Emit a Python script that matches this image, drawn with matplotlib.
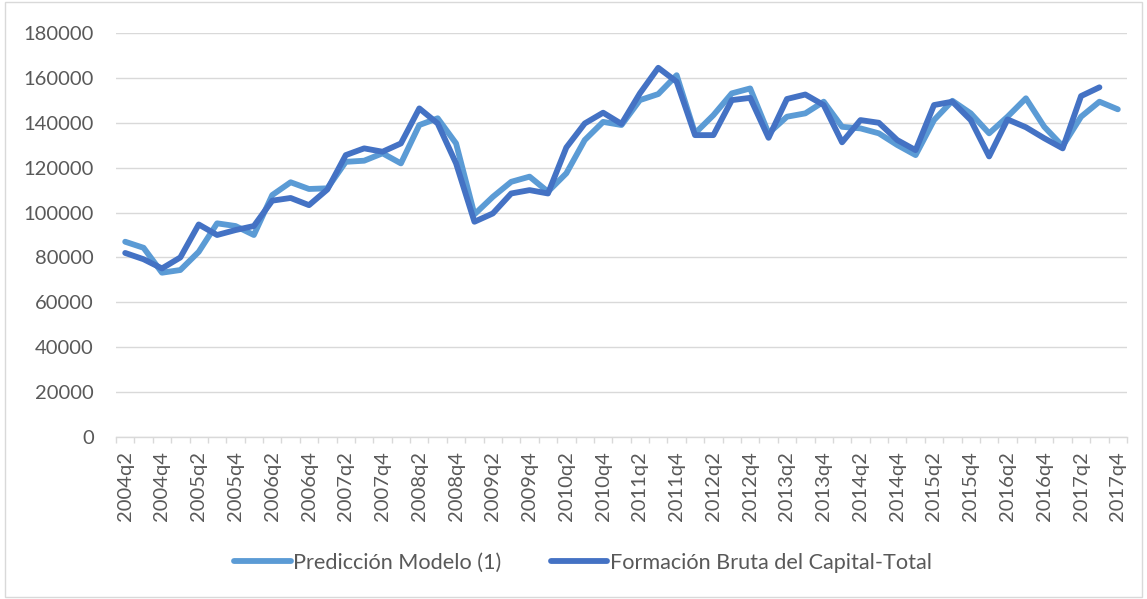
import matplotlib
matplotlib.use("Agg")
import matplotlib.pyplot as plt
from matplotlib.patches import Rectangle
import numpy as np

plt.rcParams['font.family'] = ['Lato', 'DejaVu Sans']

# Categories: quarters 2004q2 .. 2017q4
quarters = [f"{y}q{q}" for y in range(2004, 2018) for q in range(1, 5)][1:]

prediccion = [87.0, 84.3, 73.2, 74.4, 82.5, 95.2, 94.0, 90.0, 107.8, 113.5,
              110.5, 110.8, 122.6, 123.1, 126.4, 121.9, 139.0, 142.0, 130.8, 99.2,
              107.0, 113.7, 116.0, 109.3, 117.5, 132.3, 140.4, 139.0, 150.1, 152.8,
              161.2, 135.3, 143.4, 153.1, 155.3, 135.3, 142.7, 144.2, 149.4, 138.2,
              137.5, 135.3, 130.1, 125.6, 141.2, 149.8, 144.2, 135.3, 142.7, 150.9,
              138.2, 129.6, 142.7, 149.4, 146.0]
formacion = [82.0, 79.2, 75.1, 80.0, 94.7, 90.0, 92.2, 94.0, 105.3, 106.5,
             103.3, 110.3, 125.6, 128.6, 127.1, 130.8, 146.4, 139.7, 121.9, 95.9,
             99.6, 108.5, 110.0, 108.5, 129.0, 139.7, 144.5, 139.5, 153.1, 164.5,
             158.3, 134.5, 134.5, 150.1, 151.1, 133.3, 150.6, 152.6, 147.9, 131.3,
             141.2, 140.0, 132.3, 127.8, 147.9, 149.4, 141.2, 125.0, 141.5, 138.0,
             133.1, 128.6, 151.9, 155.8]

series_names = ["Predicción Modelo (1)", "Formación Bruta del Capital-Total"]
colors = ["#5B9BD5", "#4472C4"]
yticks = list(range(0, 180001, 20000))

text_color = "#595959"
grid_color = "#D9D9D9"
fs = 14.5
legend_fs = 15.6

fig = plt.figure(figsize=(11.47, 5.99), dpi=100)
ax = fig.add_axes([116/1147, 1-437/599, (1127-116)/1147, (437-33)/599])

x1 = np.arange(len(prediccion))
x2 = np.arange(len(formacion))
ax.plot(x1, np.array(prediccion) * 1000, color=colors[0], lw=4.2,
        solid_capstyle='round', solid_joinstyle='round', label=series_names[0], zorder=3)
ax.plot(x2, np.array(formacion) * 1000, color=colors[1], lw=4.2,
        solid_capstyle='round', solid_joinstyle='round', label=series_names[1], zorder=4)

ax.set_xlim(-0.5, len(quarters) - 0.5)
ax.set_ylim(0, 180000)
ax.set_yticks(yticks)
ax.set_yticklabels([str(v) for v in yticks])
ax.grid(axis='y', color=grid_color, lw=1.0)
ax.set_axisbelow(True)

ax.set_xticks(np.arange(0, len(quarters), 2))
ax.set_xticklabels(quarters[::2], rotation=90)
ax.set_xticks(np.arange(-0.5, len(quarters), 1), minor=True)
ax.tick_params(axis='x', which='major', length=0, pad=10, labelsize=fs, labelcolor=text_color)
ax.tick_params(axis='x', which='minor', length=4, width=1, color=grid_color, direction='out')
ax.tick_params(axis='y', length=0, pad=16, labelsize=fs, labelcolor=text_color)

for s in ['top', 'right', 'left']:
    ax.spines[s].set_visible(False)
ax.spines['bottom'].set_color(grid_color)
ax.spines['bottom'].set_linewidth(1.0)

handles, labels = ax.get_legend_handles_labels()
leg = fig.legend(handles, labels, loc='center', bbox_to_anchor=(583/1147, 1-563/599),
                 ncol=2, frameon=False, fontsize=legend_fs, handlelength=2.6,
                 handletextpad=0.1, columnspacing=2.3)
for t in leg.get_texts():
    t.set_color(text_color)

fig.patches.append(Rectangle((0.004, 0.004), 0.992, 0.992, transform=fig.transFigure,
                             fill=False, edgecolor=grid_color, lw=1.0))

fig.savefig("out.png", dpi=100)
